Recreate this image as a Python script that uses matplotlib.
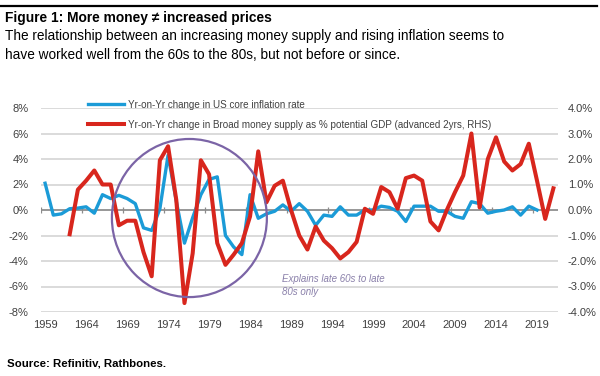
import numpy as np
import matplotlib
matplotlib.use("Agg")
import matplotlib.pyplot as plt
from matplotlib.patches import Ellipse

# data
years = np.arange(1959, 2022)

core_years = np.arange(1959, 2020)
core_infl = [2.1, -0.4, -0.3, 0.1, 0.15, 0.25, -0.25, 1.2, 0.9, 1.15,
             0.9, 0.5, -1.4, -1.6, 0.1, 4.3, 0.7, -2.6, -0.6, 1.2,
             2.4, 2.6, -2.0, -2.9, -3.5, 1.2, -0.65, -0.3, -0.1, 0.4,
             -0.1, 0.5, -0.1, -1.2, -0.4, -0.5, 0.25, -0.4, -0.4, 0.0,
             0.0, 0.3, 0.2, -0.1, -0.9, 0.3, 0.3, 0.3, -0.1, -0.1,
             -0.5, -0.65, 0.65, 0.5, -0.25, -0.1, 0.0, 0.25, -0.4, 0.3,
             0.0]

money_years = np.arange(1962, 2022)
broad_money = [-0.95, 0.8, 1.15, 1.55, 1.0, 1.0, -0.6, -0.42, -0.42, -1.65,
               -2.6, 1.95, 2.5, 0.4, -3.65, -1.7, 1.95, 1.4, -1.3, -2.15,
               -1.75, -1.3, -0.25, 2.3, 0.3, 0.95, 1.15, 0.0, -1.0, -1.55,
               -0.65, -1.2, -1.5, -1.9, -1.65, -1.25, 0.05, -0.15, 0.9, 0.7,
               0.05, 1.25, 1.35, 1.15, -0.45, -0.8, 0.0, 0.7, 1.35, 3.0,
               0.1, 2.0, 2.85, 1.9, 1.55, 1.8, 2.6, 1.15, -0.35, 0.85]

label_years = np.arange(1959, 2020, 5)
left_ticks = np.arange(-8, 9, 2)
right_ticks = np.arange(-4, 5, 1)

blue = "#1B9BD7"
red = "#D8261D"
purple = "#7B64A6"
txt = "#404040"

narrow = ["Liberation Sans Narrow", "Liberation Sans", "DejaVu Sans"]
plt.rcParams["font.family"] = ["Liberation Sans", "DejaVu Sans"]

fig = plt.figure(figsize=(6, 3.76), dpi=100)
ax = fig.add_axes([41/600, 64/376, 516.5/600, 204/376])
ax2 = ax.twinx()

ax.plot(core_years, core_infl, color=blue, lw=2.4,
        label="Yr-on-Yr change in US core inflation rate")
ax2.plot(money_years, broad_money, color=red, lw=2.9,
         label="Yr-on-Yr change in Broad money supply as % potential GDP (advanced 2yrs, RHS)")

ax.set_xlim(1958.5, 2021.5)
ax.set_ylim(-8, 8)
ax2.set_ylim(-4, 4)

ax.set_yticks(left_ticks)
ax.set_yticklabels([f"{v}%" for v in left_ticks], family=narrow, color=txt, fontsize=8)
ax2.set_yticks(right_ticks)
ax2.set_yticklabels([f"{v:.1f}%" for v in right_ticks], family=narrow, color=txt, fontsize=8)
ax.set_xticks(label_years)
ax.set_xticklabels([str(y) for y in label_years], family=narrow, color=txt, fontsize=8)

ax.tick_params(axis="y", length=0, pad=9)
ax2.tick_params(axis="y", length=0, pad=7.5)
ax.tick_params(axis="x", length=0, pad=6)

for a in (ax, ax2):
    for s in a.spines.values():
        s.set_visible(False)

ax.grid(axis="y", color="#d4d4d4", lw=1.2)
ax.set_axisbelow(True)
ax.axhline(0, color="#8c8c8c", lw=1.2, zorder=1)
ax.vlines(np.arange(1958.5, 2022, 5), -0.22, 0.22, color="#8c8c8c", lw=0.9, zorder=1)

circle = Ellipse((1976.6, -0.63), 18.9, 12.4, transform=ax.transData,
                 fill=False, ec=purple, lw=1.6, zorder=5, clip_on=False)
ax2.add_patch(circle)

ax.text(1987.9, -5.9, "Explains late 60s to late\n80s only", color="#8A80AA",
        style="italic", family=narrow, fontsize=7, va="center", ha="left",
        linespacing=1.35)

h1, l1 = ax.get_legend_handles_labels()
h2, l2 = ax2.get_legend_handles_labels()
leg = ax2.legend(h1 + h2, l1 + l2, loc="upper left", bbox_to_anchor=(83/600, 1 - 95/376),
                 bbox_transform=fig.transFigure, frameon=False,
                 handlelength=3.7, handletextpad=0.35, labelspacing=1.0, borderpad=0,
                 prop={"family": narrow, "size": 7.1})
for t in leg.get_texts():
    t.set_color(txt)

fig.add_artist(plt.Line2D([0, 597/600], [1 - 6/376, 1 - 6/376], color="black", lw=1.6))
fig.text(5/600, 1 - 18/376, "Figure 1: More money \u2260 increased prices",
         fontsize=9.9, weight="bold", va="center", ha="left")
fig.text(5/600, 1 - 36/376, "The relationship between an increasing money supply and rising inflation seems to",
         fontsize=9.8, va="center", ha="left")
fig.text(5/600, 1 - 55/376, "have worked well from the 60s to the 80s, but not before or since.",
         fontsize=9.8, va="center", ha="left")
fig.text(7/600, 1 - 363/376, "Source: Refinitiv, Rathbones.", fontsize=8.2,
         weight="bold", va="center", ha="left")

fig.savefig("out.png", dpi=100)
